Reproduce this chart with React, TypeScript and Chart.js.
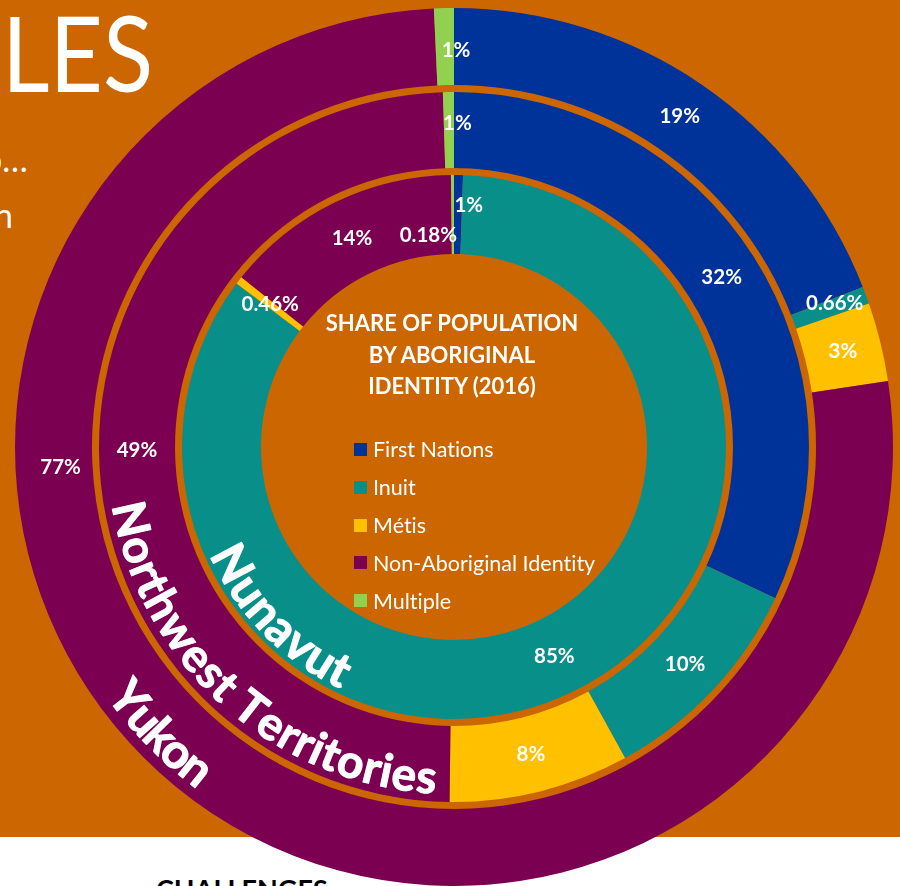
import React, { useEffect, useRef } from 'react';
import { Chart, registerables } from 'chart.js';

Chart.register(...registerables);

// ---------- data ----------
const categories = ['First Nations', 'Inuit', 'Métis', 'Non-Aboriginal Identity', 'Multiple'];
const ringNames = ['Yukon', 'Northwest Territories', 'Nunavut'];

const yukonValues = [19.06, 0.64, 2.9, 76.67, 0.73];
const nwtValues = [32.0, 10.0, 8.2, 49.3, 0.5];
const nunavutValues = [0.53, 84.73, 0.46, 14.1, 0.18];

const yukonLabels = ['19%', '0.66%', '3%', '77%', '1%'];
const nwtLabels = ['32%', '10%', '8%', '49%', '1%'];
const nunavutLabels = ['1%', '85%', '0.46%', '14%', '0.18%'];

const titleLines = ['SHARE OF POPULATION', 'BY ABORIGINAL', 'IDENTITY (2016)'];

// ---------- styles ----------
const ORANGE = '#CC6600';
const sliceColors = ['#003399', '#088F8A', '#FFC000', '#7B0051', '#92D050'];
const FONT = 'Lato, "Open Sans", sans-serif';

// label placement tweaks (dataset index -> slice index -> [angleDeg, radiusPx])
const labelNudges: Record<number, Record<number, [number, number]>> = {
  0: { 1: [69.3, 407], 3: [267, 394], 4: [0.3, 397] },
  2: { 4: [0.6, 323.5] },
  4: { 0: [3.5, 242.5], 4: [353.1, 213.5] },
};

// curved ring-name text: dataset index, baseline radius, start/end angle (deg clockwise from top), font size
const arcTextSpecs = [
  { ring: 0, rBase: 428, start: 234.5, end: 216.8, size: 48 },
  { ring: 1, rBase: 347, start: 260.4, end: 183.0, size: 46 },
  { ring: 2, rBase: 267, start: 246.5, end: 205.0, size: 48 },
];

const labelPlugin = {
  id: 'sliceLabels',
  afterDatasetsDraw(chart: any) {
    const ctx = chart.ctx;
    ctx.save();
    ctx.font = `bold 20.5px ${FONT}`;
    ctx.fillStyle = '#FFFFFF';
    ctx.textAlign = 'center';
    ctx.textBaseline = 'middle';
    chart.data.datasets.forEach((ds: any, di: number) => {
      if (!ds.sliceLabels) return;
      const meta = chart.getDatasetMeta(di);
      meta.data.forEach((arc: any, j: number) => {
        const ov = labelNudges[di] && labelNudges[di][j];
        let x: number, y: number;
        if (ov) {
          const a = (ov[0] * Math.PI) / 180;
          x = arc.x + ov[1] * Math.sin(a);
          y = arc.y - ov[1] * Math.cos(a);
        } else {
          const p = arc.tooltipPosition();
          x = p.x;
          y = p.y;
        }
        ctx.fillText(ds.sliceLabels[j], x, y);
      });
    });
    ctx.restore();
  },
};

const arcTextPlugin = {
  id: 'arcText',
  afterDraw(chart: any) {
    const ctx = chart.ctx;
    const meta = chart.getDatasetMeta(0);
    const cx = meta.data[0].x;
    const cy = meta.data[0].y;
    ctx.save();
    ctx.fillStyle = '#FFFFFF';
    ctx.strokeStyle = '#FFFFFF';
    ctx.lineWidth = 1;
    ctx.lineJoin = 'round';
    ctx.textAlign = 'center';
    ctx.textBaseline = 'alphabetic';
    arcTextSpecs.forEach((s) => {
      const text = ringNames[s.ring];
      ctx.font = `bold ${s.size}px ${FONT}`;
      const chars = Array.from(text);
      const widths = chars.map((c) => ctx.measureText(c).width);
      const total = widths.reduce((a, b) => a + b, 0);
      const rMid = s.rBase - s.size * 0.36;
      const arcLen = ((s.start - s.end) * Math.PI) / 180 * rMid;
      const extra = (arcLen - total) / (chars.length - 1);
      let pos = 0;
      chars.forEach((c, i) => {
        const sMid = pos + widths[i] / 2;
        const theta = (s.start * Math.PI) / 180 - sMid / rMid;
        const x = cx + s.rBase * Math.sin(theta);
        const y = cy - s.rBase * Math.cos(theta);
        ctx.save();
        ctx.translate(x, y);
        ctx.rotate(theta - Math.PI);
        ctx.fillText(c, 0, 0);
        ctx.strokeText(c, 0, 0);
        ctx.restore();
        pos += widths[i] + extra;
      });
    });
    ctx.restore();
  },
};

export default function App() {
  const ref = useRef<HTMLCanvasElement>(null);

  useEffect(() => {
    const canvas = ref.current!;
    const ring = (label: string, values: number[], texts: string[], w: number) => ({
      label,
      data: values,
      backgroundColor: sliceColors,
      borderWidth: 0,
      hoverOffset: 0,
      weight: w,
      sliceLabels: texts,
    });
    const spacer = (w: number) => ({
      label: 'gap',
      data: [1],
      backgroundColor: ['rgba(0,0,0,0)'],
      borderWidth: 0,
      hoverOffset: 0,
      weight: w,
    });
    const chart = new Chart(canvas, {
      type: 'doughnut',
      data: {
        labels: categories,
        datasets: [
          ring(ringNames[0], yukonValues, yukonLabels, 77),
          spacer(7),
          ring(ringNames[1], nwtValues, nwtLabels, 76),
          spacer(7),
          ring(ringNames[2], nunavutValues, nunavutLabels, 79),
        ] as any,
      },
      options: {
        responsive: false,
        animation: false,
        cutout: 193,
        events: [],
        layout: { padding: 0 },
        plugins: { legend: { display: false }, tooltip: { enabled: false } },
      } as any,
      plugins: [labelPlugin, arcTextPlugin],
    });
    return () => chart.destroy();
  }, []);

  const white = '#FFFFFF';
  const legendTop = 449.3;
  const legendStep = 37.85;

  return (
    <div
      style={{
        position: 'fixed',
        left: 0,
        top: 0,
        width: 900,
        height: 886,
        overflow: 'hidden',
        background: '#FFFFFF',
        fontFamily: FONT,
        fontVariantLigatures: 'none',
      }}
    >
      <div style={{ position: 'absolute', left: 0, top: 0, width: 900, height: 837, background: ORANGE }} />
      <div
        style={{
          position: 'absolute',
          left: 2,
          top: 0,
          fontSize: 104,
          lineHeight: '104px',
          color: white,
          whiteSpace: 'nowrap',
          transform: 'scaleX(0.89)',
          transformOrigin: '0 0',
        }}
      >
        LES
      </div>
      <div style={{ position: 'absolute', left: -17, top: 142, fontSize: 34, lineHeight: '34px', color: white, whiteSpace: 'nowrap' }}>
        o…
      </div>
      <div style={{ position: 'absolute', left: -6, top: 198, fontSize: 34, lineHeight: '34px', color: white, whiteSpace: 'nowrap' }}>
        n
      </div>
      <div style={{ position: 'absolute', left: 156, top: 875, fontSize: 27, lineHeight: '27px', fontWeight: 700, color: '#000000', whiteSpace: 'nowrap' }}>
        CHALLENGES
      </div>
      <canvas
        ref={ref}
        width={878}
        height={878}
        style={{ position: 'absolute', left: 15, top: 8, width: 878, height: 878 }}
      />
      <div
        style={{
          position: 'absolute',
          left: 252,
          top: 307,
          width: 400,
          textAlign: 'center',
          fontSize: 22,
          lineHeight: '31.7px',
          fontWeight: 700,
          color: white,
        }}
      >
        {titleLines.map((t) => (
          <div key={t}>{t}</div>
        ))}
      </div>
      {categories.map((c, i) => {
        const cy = legendTop + i * legendStep;
        return (
          <div key={c}>
            <div
              style={{
                position: 'absolute',
                left: 354,
                top: cy - 6.5,
                width: 13,
                height: 13,
                background: sliceColors[i],
              }}
            />
            <div
              style={{
                position: 'absolute',
                left: 373,
                top: cy - 11,
                fontSize: 21.5,
                lineHeight: '22px',
                color: white,
                whiteSpace: 'nowrap',
              }}
            >
              {c}
            </div>
          </div>
        );
      })}
    </div>
  );
}
